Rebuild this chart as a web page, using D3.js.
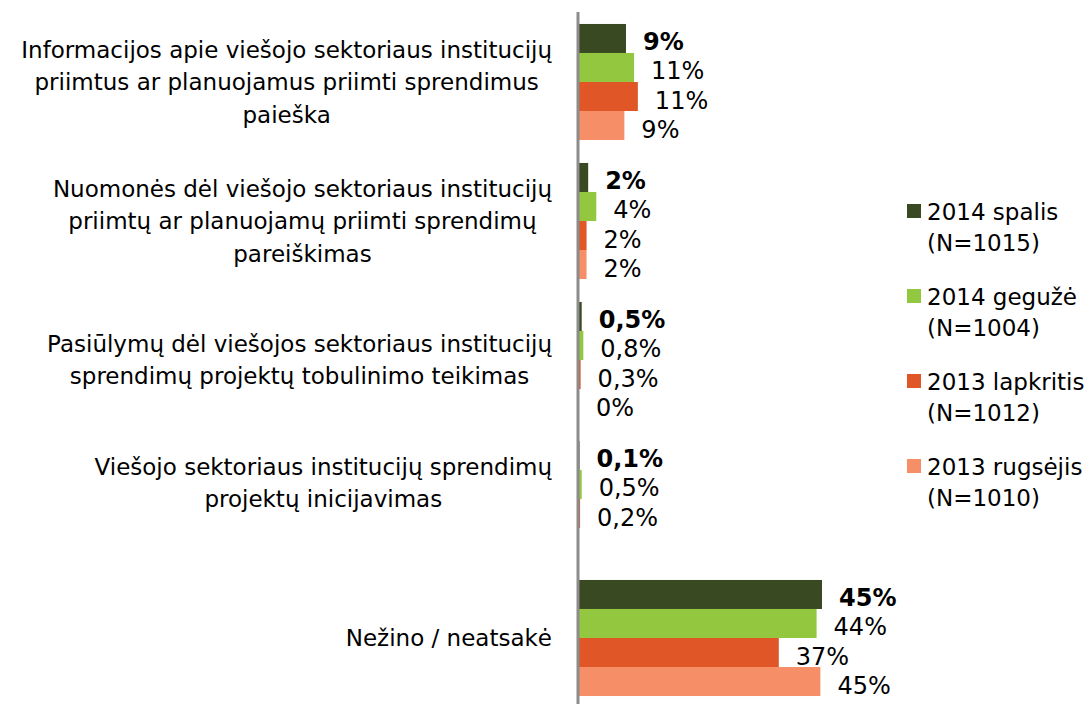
<!DOCTYPE html>
<html>
<head>
<meta charset="utf-8">
<script src="https://cdn.jsdelivr.net/npm/d3@7"></script>
<style>
body { margin: 0; background: #fff; }
text { font-family: "DejaVu Sans", Verdana, sans-serif; fill: #000; }
</style>
</head>
<body>
<script>
// categories (label lines, top to bottom)
var categories = [
  ["Informacijos apie viešojo sektoriaus institucijų", "priimtus ar planuojamus priimti sprendimus", "paieška"],
  ["Nuomonės dėl viešojo sektoriaus institucijų", "priimtų ar planuojamų priimti sprendimų", "pareiškimas"],
  ["Pasiūlymų dėl viešojos sektoriaus institucijų", "sprendimų projektų tobulinimo teikimas"],
  ["Viešojo sektoriaus institucijų sprendimų", "projektų inicijavimas", ""],
  ["Nežino / neatsakė"]
];
var series = ["2014 spalis", "2014 gegužė", "2013 lapkritis", "2013 rugsėjis"];
var seriesN = ["(N=1015)", "(N=1004)", "(N=1012)", "(N=1010)"];
var colours = ["#394a22", "#92c73f", "#e05627", "#f68f67"];

// values per series (percent), bar lengths
var spalis14   = [8.7, 1.7, 0.5, 0.1, 45];
var geguze14   = [10.2, 3.2, 0.8, 0.5, 44];
var lapkritis13 = [10.9, 1.4, 0.3, 0.2, 37];
var rugsejis13 = [8.4, 1.4, 0, null, 44.7];
// printed labels
var spalis14L   = ["9%", "2%", "0,5%", "0,1%", "45%"];
var geguze14L   = ["11%", "4%", "0,8%", "0,5%", "44%"];
var lapkritis13L = ["11%", "2%", "0,3%", "0,2%", "37%"];
var rugsejis13L = ["9%", "2%", "0%", "", "45%"];

var values = [spalis14, geguze14, lapkritis13, rugsejis13];
var labels = [spalis14L, geguze14L, lapkritis13L, rugsejis13L];

var W = 1088, H = 704, fs = 23, fsVal = 24;
var axisX = 578;

var svg = d3.select("body").append("svg").attr("width", W).attr("height", H);

var x = d3.scaleLinear().domain([0, 45]).range([axisX + 1, axisX + 1 + 243]);
var y = d3.scaleBand().domain(d3.range(categories.length))
  .range([12.5, 707.5]).paddingInner(0.165).paddingOuter(0.0825);
var ys = d3.scaleBand().domain(d3.range(series.length)).range([0, y.bandwidth()]);

// bars
series.forEach(function(s, si) {
  var g = svg.append("g");
  values[si].forEach(function(v, ci) {
    if (v == null) return;
    var by = y(ci) + ys(si);
    g.append("rect")
      .attr("x", x(0)).attr("y", by)
      .attr("width", Math.max(0, x(v) - x(0))).attr("height", ys.bandwidth())
      .attr("fill", colours[si]);
    if (labels[si][ci])
      g.append("text")
        .attr("x", x(v) + 17).attr("y", by + ys.bandwidth() / 2 + 4)
        .attr("dominant-baseline", "central")
        .attr("font-size", fsVal)
        .style("font-weight", si == 0 ? "bold" : "normal")
        .text(labels[si][ci]);
  });
});

// axis line
svg.append("line")
  .attr("x1", axisX).attr("x2", axisX).attr("y1", 12).attr("y2", H)
  .style("stroke", "#8c8c8c").style("stroke-width", 3);

// category labels: block right-aligned, lines centred inside it
var lineH = 32.5;
categories.forEach(function(lines, ci) {
  var g = svg.append("g");
  var t = g.selectAll("text").data(lines).join("text")
    .attr("font-size", fs).attr("text-anchor", "middle")
    .attr("dominant-baseline", "central")
    .text(function(d) { return d; });
  var maxW = 0;
  t.each(function() { maxW = Math.max(maxW, this.getComputedTextLength()); });
  var cx = 552 - maxW / 2;
  var cy = y(ci) + y.bandwidth() / 2;
  t.attr("x", cx)
   .attr("y", function(d, i) { return cy + (i - (lines.length - 1) / 2) * lineH; });
});

// legend
series.forEach(function(s, si) {
  var ly = 212 + si * 85;
  svg.append("rect").attr("x", 907).attr("y", ly - 8).attr("width", 14).attr("height", 14)
    .attr("fill", colours[si]);
  svg.append("text").attr("x", 927).attr("y", ly).attr("font-size", fs)
    .attr("dominant-baseline", "central").text(s);
  svg.append("text").attr("x", 927).attr("y", ly + 31).attr("font-size", fs)
    .attr("dominant-baseline", "central").text(seriesN[si]);
});
</script>
</body>
</html>
